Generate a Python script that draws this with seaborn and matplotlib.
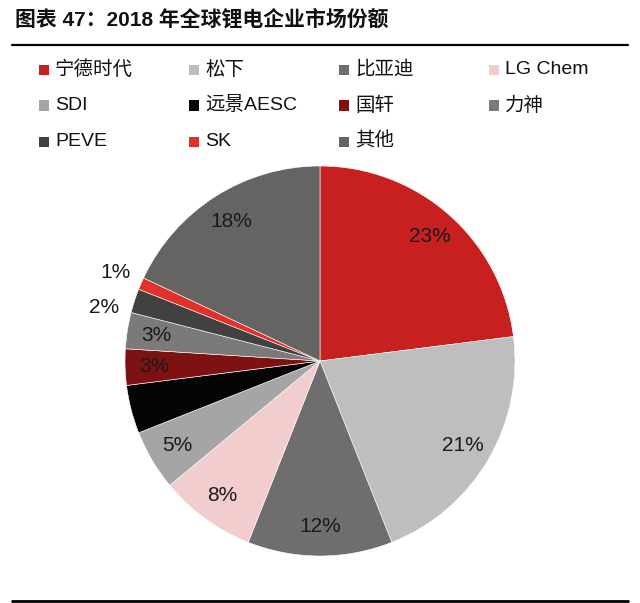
import numpy as np
import matplotlib
matplotlib.use("Agg")
import matplotlib.pyplot as plt
import matplotlib.patches as mpatches
import seaborn as sns

companies = ["宁德时代", "松下", "比亚迪", "LG Chem", "SDI", "远景AESC",
             "国轩", "力神", "PEVE", "SK", "其他"]
shares = [23, 21, 12, 8, 5, 4, 3, 3, 2, 1, 18]
pct_labels = ["23%", "21%", "12%", "8%", "5%", "", "3%", "3%", "2%", "1%", "18%"]
colors = ["#C8201F", "#BFBEBE", "#6F6D6D", "#F2CDCD", "#A5A5A5", "#050505",
          "#7E1212", "#7B7979", "#414141", "#E2302B", "#666363"]

sns.set_theme(style="white")
plt.rcParams["font.family"] = ["Liberation Sans", "Noto Sans CJK SC"]

W, H = 640, 603
fig = plt.figure(figsize=(W / 100, H / 100), dpi=100)

# pie axis: center (320, 361), radius 195 px
cx, cy, r = 320, 361, 195
ax = fig.add_axes([(cx - r) / W, (H - cy - r) / H, 2 * r / W, 2 * r / H])
wedges, _ = ax.pie(shares, colors=colors, startangle=90, counterclock=False,
                   radius=1, wedgeprops=dict(linewidth=0.4, edgecolor="white"))
ax.set_xlim(-1, 1)
ax.set_ylim(-1, 1)
ax.set_aspect("equal")
ax.axis("off")

for w, lab, val in zip(wedges, pct_labels, shares):
    if not lab:
        continue
    mid = (w.theta1 + w.theta2) / 2
    if val == 2:
        mid += 4  # small label sits a little lower in the original
    ang = np.deg2rad(mid)
    dist = 1.14 if val <= 2 else 0.85
    ax.text(dist * np.cos(ang), dist * np.sin(ang), lab, ha="center",
            va="center", fontsize=15, color="#1a1a1a")

# title and rules
fig.text(15 / W, 1 - 19 / H, "图表 47：2018 年全球锂电企业市场份额",
         fontsize=15, fontweight="bold", ha="left", va="center",
         color="#111111")
fig.add_artist(plt.Line2D([12 / W, 628 / W], [1 - 45 / H, 1 - 45 / H],
                          color="black", lw=1.6))
fig.add_artist(plt.Line2D([12 / W, 628 / W], [1 - 601 / H, 1 - 601 / H],
                          color="black", lw=2.0))

# legend: 4 columns x 3 rows, laid out on a fixed grid
col_x = [39, 189, 339, 489]
row_y = [70, 105.5, 142]
for i, (name, c) in enumerate(zip(companies, colors)):
    x = col_x[i % 4]
    y = row_y[i // 4]
    fig.add_artist(mpatches.Rectangle((x / W, (H - y - 5) / H), 10 / W, 10 / H,
                                      facecolor=c, edgecolor="none"))
    fig.text((x + 16) / W, 1 - y / H, name, fontsize=14, ha="left",
             va="center", color="#111111")

fig.savefig("out.png", dpi=100)
